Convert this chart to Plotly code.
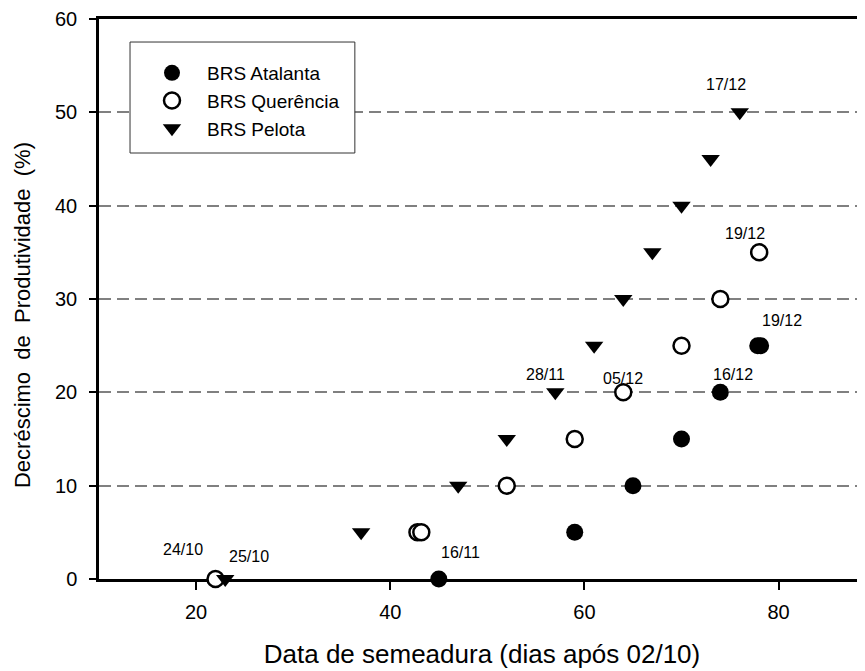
import plotly.graph_objects as go

# ---- data (x = dias após 02/10, y = decréscimo de produtividade %) ----
atalanta_x = [45, 59, 65, 70, 74, 77.85, 78.15]
atalanta_y = [0, 5, 10, 15, 20, 25, 25]

querencia_x = [22, 42.8, 43.2, 52, 59, 64, 70, 74, 78]
querencia_y = [0, 5, 5, 10, 15, 20, 25, 30, 35]

pelota_x = [23, 37, 47, 52, 57, 61, 64, 67, 70, 73, 76]
pelota_y = [0, 5, 10, 15, 20, 25, 30, 35, 40, 45, 50]

series_names = ["BRS Atalanta", "BRS Querência", "BRS Pelota"]

label_text = ["24/10", "25/10", "16/11", "28/11", "05/12", "16/12", "19/12", "19/12", "17/12"]
label_x = [18.7, 25.5, 47.2, 56.0, 64.0, 75.3, 80.4, 76.5, 74.6]
label_y = [3.2, 2.4, 2.8, 21.9, 21.5, 21.9, 27.7, 37.0, 53.0]

x_ticks = [20, 40, 60, 80]
y_ticks = [0, 10, 20, 30, 40, 50, 60]

x_title = "Data de semeadura (dias após 02/10)"
y_title = "Decréscimo  de  Produtividade  (%)"

FONT = "Liberation Sans, Arial, sans-serif"

fig = go.Figure()
fig.add_trace(go.Scatter(
    x=atalanta_x, y=atalanta_y, mode="markers", name=series_names[0],
    legendgroup="a", cliponaxis=False,
    marker=dict(symbol="circle", size=17, color="black", line=dict(width=0))))
fig.add_trace(go.Scatter(
    x=querencia_x, y=querencia_y, mode="markers", name=series_names[1],
    legendgroup="q", cliponaxis=False,
    marker=dict(symbol="circle", size=16, color="white", line=dict(width=2.5, color="black"))))
fig.add_trace(go.Scatter(
    x=pelota_x, y=pelota_y, mode="markers", name=series_names[2],
    legendgroup="p", cliponaxis=False,
    marker=dict(symbol="triangle-down", size=16, color="black", line=dict(width=0))))

for t, x, y in zip(label_text, label_x, label_y):
    fig.add_annotation(x=x, y=y, xref="x", yref="y", text=t, showarrow=False,
                       font=dict(size=16, color="black", family=FONT))

# y-axis title (placed as rotated text, slightly below the plot centre like the reference)
fig.add_annotation(x=-0.1005, y=0.4714, xref="paper", yref="paper", text=y_title,
                   textangle=-90, showarrow=False, xanchor="center", yanchor="middle",
                   font=dict(size=22, color="black", family=FONT))

# legend frame
fig.add_shape(type="rect", xref="paper", yref="paper",
              x0=0.0405, x1=0.334, y0=0.7607, y1=0.9589,
              line=dict(color="#333333", width=1), fillcolor="white", layer="above")

# the page body adds an 8px offset; the figure is sized so the plot fills the window
fig.update_layout(
    width=857, height=663,
    margin=dict(l=91, r=0, t=11, b=92, autoexpand=False),
    paper_bgcolor="white", plot_bgcolor="white",
    font=dict(family=FONT, color="black", size=20),
    showlegend=True,
    legend=dict(x=0.0496, y=0.9375, xanchor="left", yanchor="top",
                bgcolor="rgba(0,0,0,0)", borderwidth=0, itemwidth=60,
                tracegroupgap=0, font=dict(size=19, family=FONT, color="black")),
    xaxis=dict(range=[10, 88.9], tickvals=x_ticks, ticks="outside", ticklen=8,
               tickwidth=2, tickcolor="black", showline=True, linewidth=2.5,
               linecolor="black", mirror=True, showgrid=False, zeroline=False,
               layer="below traces", tickfont=dict(size=20), automargin=False,
               ticklabelstandoff=5,
               title=dict(text=x_title, font=dict(size=26), standoff=24)),
    yaxis=dict(range=[0, 60], tickvals=y_ticks, ticks="outside", ticklen=7,
               tickwidth=2, tickcolor="black", showline=True, linewidth=2.5,
               linecolor="black", showgrid=True, gridcolor="#808080",
               griddash="12px,6px", gridwidth=1.5, zeroline=False,
               layer="below traces", tickfont=dict(size=20), automargin=False,
               ticklabelstandoff=8),
)

fig.write_html("out.html")
